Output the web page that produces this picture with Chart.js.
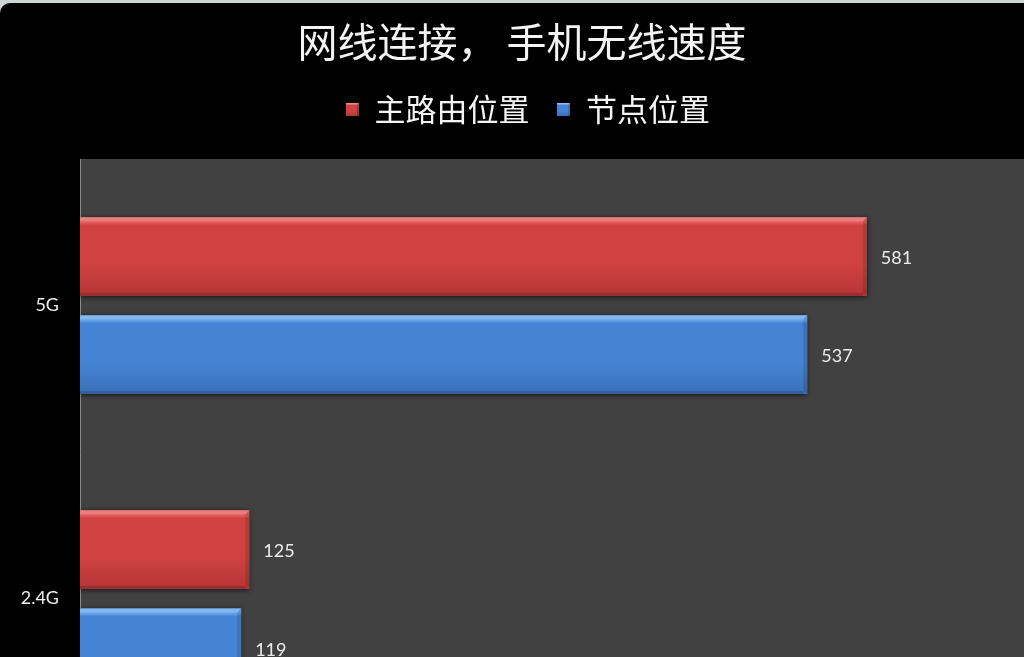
<!DOCTYPE html>
<html>
<head>
<meta charset="utf-8">
<script src="https://cdn.jsdelivr.net/npm/chart.js@4/dist/chart.umd.min.js"></script>
<style>
html, body { margin: 0; padding: 0; background: #cfd4d4; overflow: hidden; }
#wrap { margin-top: 3px; width: 1028px; height: 774px; background: #000; border-top-left-radius: 10px; overflow: hidden; }
</style>
</head>
<body>
<div id="wrap"><canvas id="chart" width="1028" height="774"></canvas></div>
<script>
// Data
const categories = ['5G', '2.4G'];
const seriesNames = ['主路由位置', '节点位置'];
const mainRouter = [581, 125];
const nodeSpot = [537, 119];
const axisMax = 700;

// Colours (top, middle, bottom)
const redShades = ['#e66262', '#d04242', '#b53535'];
const blueShades = ['#6aa8ec', '#4584d4', '#3a70b8'];

function barGradient(ctx, top, bottom, shades) {
    const g = ctx.createLinearGradient(0, top, 0, bottom);
    g.addColorStop(0, shades[0]);
    g.addColorStop(0.06, shades[0]);
    g.addColorStop(0.1, shades[1]);
    g.addColorStop(0.6, shades[1]);
    g.addColorStop(1, shades[2]);
    return g;
}

// small bevelled square for the legend
function legendBox(shades) {
    const c = document.createElement('canvas');
    c.width = 13;
    c.height = 13;
    const cx = c.getContext('2d');
    cx.fillStyle = barGradient(cx, 0, 13, shades);
    cx.fillRect(0, 0, 13, 13);
    cx.fillStyle = 'rgba(255,255,255,0.25)';
    cx.fillRect(0, 0, 13, 2);
    cx.fillStyle = 'rgba(0,0,0,0.2)';
    cx.fillRect(11, 0, 2, 13);
    return c;
}

const shadesList = [redShades, blueShades];

// Plot background
const plotBackground = {
    id: 'plotBackground',
    afterLayout(chart) {
        // legend sits a little right of centre in the original
        chart.legend.left += 6;
        chart.legend.right += 6;
    },
    beforeDraw(chart) {
        const { ctx, chartArea } = chart;
        ctx.save();
        ctx.fillStyle = '#414141';
        ctx.fillRect(chartArea.left, chartArea.top, chartArea.right - chartArea.left, chartArea.bottom - chartArea.top);
        ctx.restore();
    }
};

// Bevelled bars and value labels
const bevelBars = {
    id: 'bevelBars',
    beforeDatasetsDraw(chart) {
        const ctx = chart.ctx;
        ctx.save();
        chart.data.datasets.forEach((ds, i) => {
            chart.getDatasetMeta(i).data.forEach(el => {
                const p = el.getProps(['x', 'y', 'base', 'height'], true);
                ctx.shadowColor = 'rgba(0,0,0,0.7)';
                ctx.shadowBlur = 5;
                ctx.shadowOffsetY = 1;
                ctx.fillStyle = '#222';
                ctx.fillRect(p.base, p.y - p.height / 2, p.x - p.base, p.height);
            });
        });
        ctx.restore();
    },
    afterDatasetsDraw(chart) {
        const ctx = chart.ctx;
        ctx.save();
        chart.data.datasets.forEach((ds, i) => {
            const shades = shadesList[i];
            chart.getDatasetMeta(i).data.forEach((el, j) => {
                const p = el.getProps(['x', 'y', 'base', 'height'], true);
                const top = p.y - p.height / 2;
                const bottom = p.y + p.height / 2;
                const left = p.base;
                const right = p.x;
                ctx.fillStyle = barGradient(ctx, top, bottom, shades);
                ctx.fillRect(left, top, right - left, p.height);
                // top bevel
                ctx.fillStyle = 'rgba(255,255,255,0.18)';
                ctx.beginPath();
                ctx.moveTo(left, top);
                ctx.lineTo(right, top);
                ctx.lineTo(right - 4, top + 4);
                ctx.lineTo(left, top + 4);
                ctx.closePath();
                ctx.fill();
                // right bevel
                ctx.fillStyle = 'rgba(0,0,0,0.12)';
                ctx.beginPath();
                ctx.moveTo(right, top);
                ctx.lineTo(right, bottom);
                ctx.lineTo(right - 4, bottom - 3);
                ctx.lineTo(right - 4, top + 4);
                ctx.closePath();
                ctx.fill();
                // bottom edge
                ctx.fillStyle = 'rgba(0,0,0,0.15)';
                ctx.fillRect(left, bottom - 3, right - left - 4, 3);

                // value label
                ctx.fillStyle = '#ececec';
                ctx.font = '18px Lato, "Open Sans", sans-serif';
                ctx.textAlign = 'left';
                ctx.textBaseline = 'middle';
                ctx.fillText(String(ds.data[j]), right + 14, p.y + 2);
            });
        });
        ctx.restore();
    }
};

const ctx = document.getElementById('chart').getContext('2d');

const chart = new Chart(ctx, {
    type: 'bar',
    data: {
        labels: categories,
        datasets: [
            {
                label: seriesNames[0],
                data: mainRouter,
                backgroundColor: redShades[1],
                pointStyle: legendBox(redShades)
            },
            {
                label: seriesNames[1],
                data: nodeSpot,
                backgroundColor: blueShades[1],
                pointStyle: legendBox(blueShades)
            }
        ]
    },
    options: {
        indexAxis: 'y',
        responsive: false,
        animation: false,
        devicePixelRatio: 1,
        barPercentage: 0.8,
        categoryPercentage: 0.67,
        layout: {
            padding: { left: 16, right: 0, top: 0, bottom: 0 }
        },
        scales: {
            x: {
                position: 'top',
                min: 0,
                max: axisMax,
                grid: { display: false },
                border: { display: false },
                ticks: { display: false },
                afterFit: (scale) => { scale.height = 24; }
            },
            y: {
                grid: { display: false, drawTicks: false },
                border: { display: true, color: '#8c8c8c', width: 1 },
                ticks: {
                    color: '#eeeeee',
                    padding: 21,
                    font: { family: 'Lato, "Open Sans", sans-serif', size: 18 }
                },
                afterFit: (scale) => { scale.width = 64; }
            }
        },
        plugins: {
            title: {
                display: true,
                text: '网线连接， 手机无线速度',
                color: '#f4f4f4',
                font: { family: '"Noto Sans CJK SC", sans-serif', size: 40, weight: 'normal' },
                padding: { top: 15, bottom: 0 }
            },
            legend: {
                position: 'top',
                labels: {
                    color: '#f4f4f4',
                    font: { family: '"Noto Sans CJK SC", sans-serif', size: 31 },
                    usePointStyle: true,
                    boxWidth: 13,
                    boxHeight: 13,
                    padding: 28
                }
            },
            tooltip: { enabled: false }
        }
    },
    plugins: [plotBackground, bevelBars]
});
</script>
</body>
</html>
